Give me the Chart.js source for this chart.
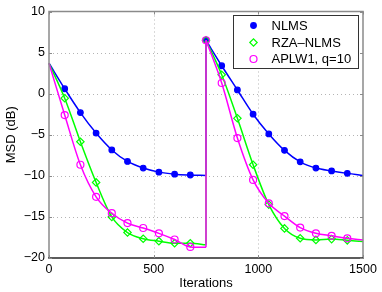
<!DOCTYPE html>
<html>
<head>
<meta charset="utf-8">
<script src="https://cdn.jsdelivr.net/npm/chart.js@4"></script>
<style>
html,body{margin:0;padding:0;background:#fff;}
canvas{display:block;}
</style>
</head>
<body>
<canvas id="c" width="382" height="292" style="width:382px;height:292px"></canvas>
<script>
// ---- data ----
const itersA = [0, 75, 150, 225, 300, 375, 450, 525, 600, 675, 750];
const itersB = [750, 825, 900, 975, 1050, 1125, 1200, 1275, 1350, 1425, 1500];

const nlmsA = [3.7, 0.6, -2.3, -4.8, -6.85, -8.25, -9.05, -9.55, -9.8, -9.9, -9.95];
const nlmsB = [6.5, 3.4, 0.45, -2.5, -4.9, -6.9, -8.3, -9.05, -9.4, -9.7, -9.95];

const rzaA = [3.7, -0.55, -5.85, -10.8, -15.0, -16.9, -17.65, -17.95, -18.2, -18.2, -18.4];
const rzaB = [6.5, 2.3, -3.0, -8.65, -13.5, -16.4, -17.6, -17.8, -17.7, -17.85, -18.0];

const aplwA = [3.7, -2.6, -8.65, -12.55, -14.55, -15.75, -16.35, -17.0, -17.75, -18.65, -18.7];
const aplwB = [6.5, 1.3, -5.4, -10.5, -13.35, -14.9, -16.3, -17.0, -17.3, -17.6, -17.8];

const seriesLabels = ['NLMS', 'RZA\u2013NLMS', 'APLW1, q=10'];
const xTicks = [0, 500, 1000, 1500];
const yTicks = [-20, -15, -10, -5, 0, 5, 10];
const xTitle = 'Iterations';
const yTitle = 'MSD (dB)';

// ---- styles ----
const FONT = '"Liberation Sans", Arial, Helvetica, sans-serif';
const styles = [
  {color: '#0000ff', pointStyle: 'circle', radius: 2.8, fill: '#0000ff', order: 2},
  {color: '#00ff00', pointStyle: 'rectRot', radius: 3.7, fill: 'rgba(0,0,0,0)', order: 1},
  {color: '#ff00ff', pointStyle: 'circle', radius: 3.5, fill: 'rgba(0,0,0,0)', order: 0}
];
const halves = [[nlmsA, nlmsB], [rzaA, rzaB], [aplwA, aplwB]];

function pts(xs, ys) { return xs.map((x, i) => ({x: x, y: ys[i]})); }

const datasets = [];
halves.forEach((h, s) => {
  const st = styles[s];
  const base = {
    borderColor: st.color, backgroundColor: st.fill, borderWidth: 1.5,
    pointStyle: st.pointStyle, pointBorderColor: st.color, pointBackgroundColor: st.fill,
    pointBorderWidth: 1.2, cubicInterpolationMode: 'monotone', order: st.order, clip: 6
  };
  datasets.push(Object.assign({}, base, {
    label: seriesLabels[s], data: pts(itersA, h[0]),
    pointRadius: ctx => (ctx.dataIndex === 0 || ctx.dataIndex === itersA.length - 1) ? 0 : st.radius
  }));
  datasets.push(Object.assign({}, base, {
    label: seriesLabels[s] + ' (b)', data: pts(itersB, h[1]),
    pointRadius: ctx => (ctx.dataIndex === itersB.length - 1) ? 0 : st.radius
  }));
  datasets.push(Object.assign({}, base, {
    label: seriesLabels[s] + ' (jump)',
    data: [{x: itersA[itersA.length - 1], y: h[0][h[0].length - 1]}, {x: itersB[0], y: h[1][0]}],
    pointRadius: 0, tension: 0, cubicInterpolationMode: 'default'
  }));
});

const frame = {
  id: 'frame',
  beforeDatasetsDraw(chart) {
    const {ctx, chartArea: a, scales: {x, y}} = chart;
    ctx.save();
    ctx.strokeStyle = '#b4b4b4';
    ctx.lineWidth = 1;
    ctx.setLineDash([1, 3]);
    xTicks.forEach(v => {
      const px = Math.round(x.getPixelForValue(v)) + 0.5;
      if (v === xTicks[0] || v === xTicks[xTicks.length - 1]) return;
      ctx.beginPath(); ctx.moveTo(px, a.top); ctx.lineTo(px, a.bottom); ctx.stroke();
    });
    yTicks.forEach(v => {
      const py = Math.round(y.getPixelForValue(v)) + 0.5;
      if (v === yTicks[0] || v === yTicks[yTicks.length - 1]) return;
      ctx.beginPath(); ctx.moveTo(a.left, py); ctx.lineTo(a.right, py); ctx.stroke();
    });
    ctx.restore();
  },
  afterDatasetsDraw(chart) {
    const {ctx, chartArea: a, scales: {x, y}} = chart;
    ctx.save();
    ctx.setLineDash([]);
    ctx.lineWidth = 1.5;
    ctx.strokeStyle = '#8a8a8a';
    ctx.beginPath();
    ctx.moveTo(a.left, a.bottom); ctx.lineTo(a.left, a.top); ctx.lineTo(a.right, a.top); ctx.lineTo(a.right, a.bottom);
    ctx.stroke();
    ctx.strokeStyle = '#262626';
    ctx.beginPath(); ctx.moveTo(a.left - 0.75, a.bottom); ctx.lineTo(a.right + 0.75, a.bottom); ctx.stroke();
    ctx.lineWidth = 1;
    ctx.strokeStyle = '#8a8a8a';
    const L = 3;
    xTicks.forEach(v => {
      const px = Math.round(x.getPixelForValue(v)) + 0.5;
      ctx.beginPath(); ctx.moveTo(px, a.bottom); ctx.lineTo(px, a.bottom - L);
      ctx.moveTo(px, a.top); ctx.lineTo(px, a.top + L); ctx.stroke();
    });
    yTicks.forEach(v => {
      const py = Math.round(y.getPixelForValue(v)) + 0.5;
      ctx.beginPath(); ctx.moveTo(a.left, py); ctx.lineTo(a.left + L, py);
      ctx.moveTo(a.right, py); ctx.lineTo(a.right - L, py); ctx.stroke();
    });
    // legend
    const bx = 233.5, by = 15.5, bw = 125, bh = 53;
    ctx.fillStyle = '#fff';
    ctx.fillRect(bx, by, bw, bh);
    ctx.strokeStyle = '#333';
    ctx.lineWidth = 1;
    ctx.strokeRect(bx, by, bw, bh);
    const rows = [25.5, 42.5, 59];
    ctx.font = '13px ' + FONT;
    ctx.textBaseline = 'middle';
    ctx.textAlign = 'left';
    seriesLabels.forEach((lab, i) => {
      const st = styles[i];
      ctx.strokeStyle = st.color;
      ctx.fillStyle = st.fill;
      ctx.lineWidth = 1.2;
      Chart.helpers.drawPoint(ctx, {pointStyle: st.pointStyle, radius: st.radius, rotation: 0, borderWidth: 1.2}, 253.5, rows[i]);
      ctx.fillStyle = '#000';
      ctx.fillText(lab, 271.5, rows[i] + 0.5);
    });
    ctx.restore();
  },
  afterDraw(chart) {
    const {ctx, chartArea: a} = chart;
    ctx.save();
    ctx.fillStyle = '#000';
    ctx.font = '13px ' + FONT;
    ctx.textAlign = 'center';
    ctx.textBaseline = 'alphabetic';
    ctx.fillText(xTitle, (a.left + a.right) / 2, 287);
    ctx.translate(15, (a.top + a.bottom) / 2);
    ctx.rotate(-Math.PI / 2);
    ctx.fillText(yTitle, 0, 0);
    ctx.restore();
  }
};

new Chart(document.getElementById('c'), {
  type: 'line',
  data: {datasets: datasets},
  plugins: [frame],
  options: {
    responsive: false,
    animation: false,
    devicePixelRatio: 1,
    layout: {padding: {top: 11, right: 19, left: 0, bottom: 0}},
    plugins: {legend: {display: false}, tooltip: {enabled: false}},
    scales: {
      x: {
        type: 'linear', min: 0, max: 1500,
        afterFit: s => { s.height = 34; },
        afterBuildTicks: s => { s.ticks = xTicks.map(v => ({value: v})); },
        grid: {display: false, drawTicks: false},
        border: {display: false},
        ticks: {color: '#000', padding: 4, maxRotation: 0, font: {family: FONT, size: 12.5},
          callback: v => String(v)}
      },
      y: {
        type: 'linear', min: -20, max: 10,
        afterFit: s => { s.width = 49; },
        afterBuildTicks: s => { s.ticks = yTicks.map(v => ({value: v})); },
        grid: {display: false, drawTicks: false},
        border: {display: false},
        ticks: {color: '#000', padding: 4, font: {family: FONT, size: 12.5},
          callback: v => String(v).replace('-', '\u2212')}
      }
    }
  }
});
</script>
</body>
</html>
